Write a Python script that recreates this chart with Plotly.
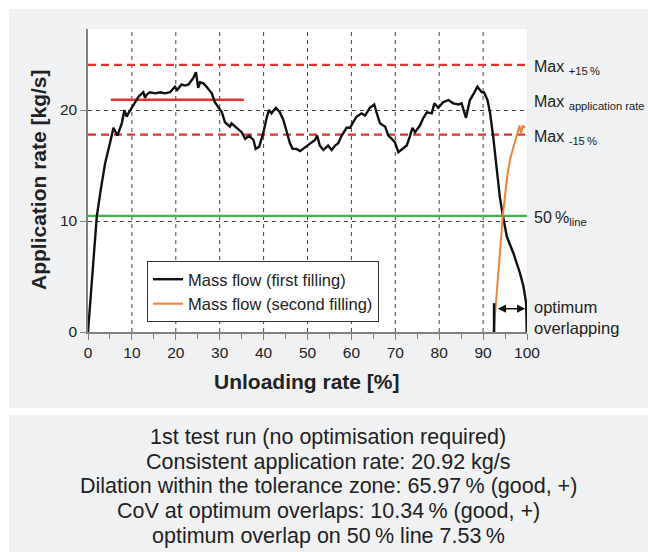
import plotly.graph_objects as go

# ---------------- data ----------------
x_first = [0, 1.0, 2.0, 2.9, 3.9, 5.0, 5.8, 6.7, 7.7, 8.3, 8.8, 9.2, 10.3, 11.0, 11.5, 12.6, 13.0,
           13.4, 14.1, 15.3, 16.5, 17.5, 18.7, 19.8, 20.3, 21.3, 22.1, 22.9, 24.0, 24.6, 25.1, 25.5,
           26.3, 27.0, 28.2, 28.9, 29.7, 30.5, 31.2, 32.3, 32.7, 33.9, 35.0, 35.8, 36.7, 37.7,
           38.2, 39.0, 39.9, 40.7, 41.2, 41.8, 42.8, 43.7, 44.5, 45.3, 46.0, 46.6, 47.5, 48.3,
           49.4, 50.6, 51.7, 52.2, 52.8, 53.6, 54.7, 55.5, 56.3, 57.0, 57.8, 58.9, 59.7, 60.4,
           61.2, 62.3, 63.1, 64.2, 65.2, 65.8, 66.5, 67.7, 68.4, 69.2, 69.9, 70.7, 71.6, 72.6,
           73.3, 73.9, 74.5, 75.6, 76.4, 77.2, 78.3, 78.9, 79.8, 80.9, 82.1, 83.2, 84.4, 85.1,
           86.1, 87.0, 87.9, 88.7, 89.7, 90.2, 91.0, 91.6, 92.3, 93.1, 93.8, 94.5, 95.4, 96.9,
           98.4, 99.2, 99.8, 100]
y_first = [0, 5.2, 10.4, 12.8, 15.2, 17.0, 18.4, 17.7, 18.8, 20.0, 19.4, 19.7, 20.4, 20.9, 21.2,
           21.6, 21.1, 21.4, 21.6, 21.5, 21.6, 21.5, 21.6, 22.1, 21.8, 22.3, 22.2, 22.3, 22.9,
           23.4, 22.0, 22.5, 22.4, 22.1, 21.5, 20.7, 20.3, 19.8, 18.9, 18.5, 18.8, 18.4, 18.0,
           17.4, 17.7, 17.3, 16.5, 16.7, 17.9, 19.3, 20.0, 19.7, 20.2, 19.8, 19.1, 18.0, 17.0,
           16.5, 16.5, 16.3, 16.6, 17.0, 17.3, 17.7, 16.8, 16.4, 16.8, 16.4, 16.8, 17.0, 17.7,
           18.4, 18.4, 18.9, 19.4, 19.7, 19.5, 20.2, 20.5, 19.7, 18.8, 18.5, 17.7, 17.4, 17.1,
           16.2, 16.5, 16.8, 17.6, 18.4, 18.0, 18.6, 19.3, 19.8, 19.7, 20.6, 20.2, 20.7, 20.9,
           20.6, 20.5, 20.6, 19.3, 20.9, 21.5, 22.1, 21.6, 21.6, 20.9, 19.7, 17.6, 14.6, 12.2,
           10.5, 8.6, 7.1, 5.3, 4.1, 2.6, 0]

x_second = [92.4, 93.2, 94.0, 94.5, 95.2, 95.7, 96.3, 96.9, 97.4, 97.8, 98.3, 98.6, 99.1, 99.5]
y_second = [0, 4.0, 8.0, 10.5, 13.0, 14.6, 15.8, 16.7, 17.5, 18.0, 18.6, 17.9, 18.6, 18.4]

max_rate = 20.92
max_plus15 = 24.06
max_minus15 = 17.78
line50 = 10.46
consistent_span = [5.2, 35.5]
overlap_span = [92.5, 100]
overlap_bar_height = 2.6

x_ticks = list(range(0, 101, 10))
y_ticks = [0, 10, 20]

series_names = ["Mass flow (first filling)", "Mass flow (second filling)"]
summary_lines = [
    "1st test run (no optimisation required)",
    "Consistent application rate: 20.92 kg/s",
    "Dilation within the tolerance zone: 65.97\u2009% (good, +)",
    "CoV at optimum overlaps: 10.34\u2009% (good, +)",
    "optimum overlap on 50\u2009% line 7.53\u2009%",
]

# ---------------- layout geometry (page pixels; body margin removed) ----------------
W, H = 648, 552
PL, PR, PT, PB = 88, 527, 29, 332
FONT = "Liberation Sans, Arial, Helvetica, sans-serif"
RED = "#e8302e"
GREEN = "#3cb64a"
ORANGE = "#f5803a"
GRAY_BG = "#f0f1f3"
TXT = "#222222"


def px(x):
    return (x - PL) / (PR - PL)


def py(y):
    return (PB - y) / (PB - PT)


fig = go.Figure()

# reference lines
for lvl in [max_plus15, max_minus15]:
    fig.add_trace(go.Scatter(x=[0, 100], y=[lvl, lvl], mode="lines",
                             line=dict(color=RED, width=2.2, dash="8px,5px"),
                             showlegend=False, hoverinfo="skip"))
fig.add_trace(go.Scatter(x=[0, 100], y=[line50, line50], mode="lines",
                         line=dict(color=GREEN, width=2.2), showlegend=False, hoverinfo="skip"))
fig.add_trace(go.Scatter(x=consistent_span, y=[max_rate, max_rate], mode="lines",
                         line=dict(color=RED, width=2.5), showlegend=False, hoverinfo="skip"))

fig.add_trace(go.Scatter(x=x_first, y=y_first, mode="lines", name=series_names[0],
                         line=dict(color="#111111", width=2.4)))
fig.add_trace(go.Scatter(x=x_second, y=y_second, mode="lines", name=series_names[1],
                         line=dict(color=ORANGE, width=2)))

shapes = [
    dict(type="rect", xref="paper", yref="paper", x0=px(9), x1=px(W + 10), y0=py(408), y1=py(9),
         fillcolor=GRAY_BG, line_width=0, layer="below"),
    dict(type="rect", xref="paper", yref="paper", x0=px(9), x1=px(W + 10), y0=py(H + 10), y1=py(415),
         fillcolor=GRAY_BG, line_width=0, layer="below"),
    dict(type="rect", xref="paper", yref="paper", x0=0, x1=1, y0=0, y1=1,
         fillcolor="white", line_width=0, layer="below"),
]
for xv in x_ticks[1:-1]:
    shapes.append(dict(type="line", xref="x", yref="paper", x0=xv, x1=xv, y0=0, y1=1,
                       line=dict(color="#444444", width=1, dash="4px,4px"), layer="below"))
for xv in overlap_span:
    shapes.append(dict(type="line", xref="x", yref="y", x0=xv, x1=xv, y0=0, y1=overlap_bar_height,
                       line=dict(color="#111111", width=2.5)))

annotations = []
annotations.append(dict(xref="paper", yref="paper", x=px(38), y=py(180),
                        text="<b>Application rate [kg/s]</b>", textangle=-90, showarrow=False,
                        xanchor="center", yanchor="middle",
                        font=dict(size=21, color=TXT, family=FONT)))
annotations.append(dict(xref="paper", yref="paper", x=px(307), y=py(381),
                        text="<b>Unloading rate [%]</b>", showarrow=False,
                        xanchor="center", yanchor="middle",
                        font=dict(size=21, color=TXT, family=FONT)))

right_labels = [
    (max_plus15, "Max <sub>+15\u2009%</sub>"),
    (max_rate, "Max <sub>application rate</sub>"),
    (max_minus15, "Max <sub>-15\u2009%</sub>"),
    (line50, "50\u2009%<sub>line</sub>"),
]
for yv, txt in right_labels:
    annotations.append(dict(xref="paper", yref="y", x=px(532), y=yv, text=txt,
                            xanchor="left", yanchor="middle", showarrow=False, yshift=-3,
                            font=dict(size=16, color=TXT, family=FONT)))
annotations.append(dict(xref="paper", yref="paper", x=px(532), y=py(317),
                        text="optimum<br>overlapping", xanchor="left", yanchor="middle",
                        align="left", showarrow=False,
                        font=dict(size=16.5, color=TXT, family=FONT)))
# double arrow
annotations.append(dict(xref="x", yref="y", axref="x", ayref="y",
                        x=overlap_span[1] - 0.4, y=2.1, ax=overlap_span[0] + 0.5, ay=2.1,
                        text="", showarrow=True, arrowhead=2, arrowside="end+start",
                        arrowsize=1.1, arrowwidth=1.5, arrowcolor="#111111"))

line_ys = [437, 462, 486, 511, 536]
for yy, txt in zip(line_ys, summary_lines):
    annotations.append(dict(xref="paper", yref="paper", x=px(328), y=py(yy), text=txt,
                            showarrow=False, xanchor="center", yanchor="middle",
                            font=dict(size=21.5, color=TXT, family=FONT)))

fig.update_layout(
    width=W, height=H, autosize=False,
    margin=dict(l=PL, r=W - PR, t=PT, b=H - PB, pad=0),
    paper_bgcolor="white", plot_bgcolor="white",
    font=dict(family=FONT, color=TXT),
    shapes=shapes, annotations=annotations,
    showlegend=True,
    legend=dict(x=px(147), y=py(261), xanchor="left", yanchor="top",
                bgcolor="white", bordercolor="#333333", borderwidth=1,
                font=dict(size=16.5, color=TXT, family=FONT),
                tracegroupgap=0),
    xaxis=dict(range=[0, 100], tickvals=x_ticks, showgrid=False, zeroline=False,
               showline=True, linecolor="#808080", linewidth=1.5,
               ticks="outside", ticklen=6, tickcolor="#808080", tickwidth=1.2,
               tickfont=dict(size=15.5, color=TXT),
               minor=dict(dtick=5, ticks="outside", ticklen=5, tickcolor="#808080", showgrid=False)),
    yaxis=dict(range=[0, 27.3], tickvals=y_ticks, showgrid=True, gridcolor="#444444",
               griddash="4px,4px", gridwidth=1, zeroline=False,
               showline=True, linecolor="#808080", linewidth=1.5,
               ticks="outside", ticklen=6, tickcolor="#808080", tickwidth=1.2,
               tickfont=dict(size=15.5, color=TXT)),
)

fig.write_html("out.html", config={"displayModeBar": False},
               post_script="document.body.style.margin='0';document.body.style.overflow='hidden';")
